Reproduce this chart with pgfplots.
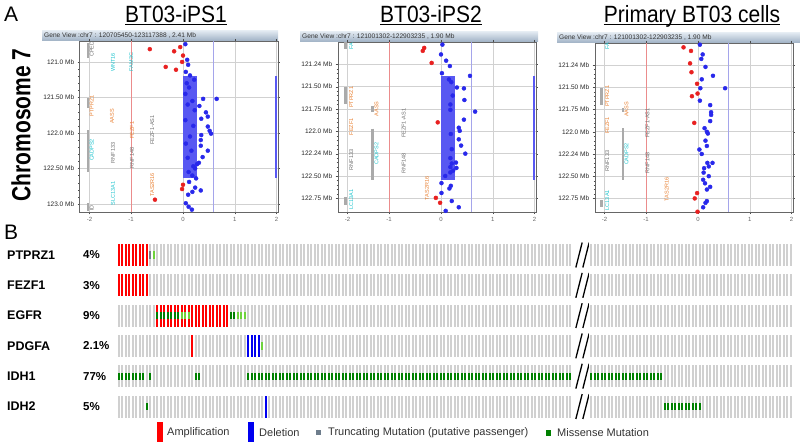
\documentclass[border=0pt]{standalone}
\usepackage{pgfplots}
\pgfplotsset{compat=1.18}
\usepackage{fontspec}
\setmainfont{Liberation Sans}
\usepackage{graphicx}
\definecolor{dotred}{RGB}{232,32,32}
\definecolor{dotblue}{RGB}{40,40,235}
\definecolor{rectblue}{RGB}{88,88,242}
\definecolor{gcyan}{RGB}{30,195,205}
\definecolor{gorange}{RGB}{232,128,50}
\definecolor{ggray}{RGB}{110,110,110}
\definecolor{gbar}{RGB}{170,170,170}
\definecolor{gridred}{RGB}{235,140,140}
\definecolor{gridpurple}{RGB}{165,165,235}
\definecolor{cellgray}{RGB}{208,208,208}
\definecolor{ampred}{RGB}{255,0,0}
\definecolor{delblue}{RGB}{0,0,240}
\definecolor{misgreen}{RGB}{0,128,0}
\definecolor{ltgreen}{RGB}{110,210,60}
\definecolor{truncgray}{RGB}{110,125,140}
\definecolor{hdrtop}{RGB}{224,232,240}
\definecolor{hdrbot}{RGB}{158,176,196}
\newcommand{\genefont}{\fontsize{5.5}{5.5}\selectfont}
\newcommand{\cell}[5]{\addplot[fill=#5, draw=none, forget plot] coordinates {(#1,#3) (#2,#3) (#2,#4) (#1,#4)} -- cycle;}
\pgfplotsset{
 geneview/.style={
  scale only axis, width=198.2pt,
  y dir=reverse,
  xmin=-2.21, xmax=2.03,
  xtick={-2,-1.11,0,1.11,2}, xticklabels={-2,-1,0,1,2},
  xticklabel style={font=\fontsize{6}{6}\selectfont, text=black!60},
  yticklabel style={font=\fontsize{6.5}{7}\selectfont, text=black!85},
  tick align=outside, major tick length=2pt, minor tick length=1.2pt,
  tick style={black!70},
  axis line style={black!60},
  grid=major, major grid style={black!18, line width=0.6pt},
  minor y tick num=4,
  clip=true,
 },
}
\begin{document}
\begin{tikzpicture}
\useasboundingbox (0pt,0pt) rectangle (800pt,-446pt);
% ---------- labels ----------
\node[anchor=base west, inner sep=0, font=\fontsize{21}{21}\selectfont] at (4pt,-22pt) {A};
\node[anchor=base west, inner sep=0, font=\fontsize{21}{21}\selectfont] at (4pt,-240pt) {B};
\node[rotate=90, inner sep=0, font=\bfseries\fontsize{21}{21}\selectfont] at (21pt,-125pt) {\scalebox{1}[1.25]{Chromosome 7}};
\node[anchor=base, inner sep=0, font=\fontsize{21}{21}\selectfont] (t1) at (176pt,-23pt) {\scalebox{1}[1.12]{BT03-iPS1}};
\draw[line width=1pt] ([yshift=-2pt]t1.base west) -- ([yshift=-2pt]t1.base east);
\node[anchor=base, inner sep=0, font=\fontsize{21}{21}\selectfont] (t2) at (431pt,-23pt) {\scalebox{1}[1.12]{BT03-iPS2}};
\draw[line width=1pt] ([yshift=-2pt]t2.base west) -- ([yshift=-2pt]t2.base east);
\node[anchor=base, inner sep=0, font=\fontsize{21}{21}\selectfont] (t3) at (692pt,-23pt) {\scalebox{1}[1.12]{Primary BT03 cells}};
\draw[line width=1pt] ([yshift=-2pt]t3.base west) -- ([yshift=-2pt]t3.base east);
% ---------- headers ----------
\shade[top color=hdrtop, bottom color=hdrbot] (42pt,-31pt) rectangle (278pt,-41pt);
\node[anchor=west, inner sep=0, font=\fontsize{6.6}{7}\selectfont, text=black!80] at (44pt,-36pt) {Gene View :chr7 : 120705450-123117388 , 2.41 Mb};
\shade[top color=hdrtop, bottom color=hdrbot] (300pt,-32pt) rectangle (538pt,-42pt);
\node[anchor=west, inner sep=0, font=\fontsize{6.6}{7}\selectfont, text=black!80] at (302pt,-37pt) {Gene View :chr7 : 121001302-122903235 , 1.90 Mb};
\shade[top color=hdrtop, bottom color=hdrbot] (557pt,-33pt) rectangle (800pt,-43pt);
\node[anchor=west, inner sep=0, font=\fontsize{6.6}{7}\selectfont, text=black!80] at (559pt,-38pt) {Gene View :chr7 : 121001302-122903235 , 1.90 Mb};

% ---------- panel 1 ----------
\begin{axis}[geneview, at={(79.7pt,-41pt)}, anchor=north west, height=171.25pt,
  ymin=120.705, ymax=123.117,
  ytick={121,121.5,122,122.5,123},
  yticklabels={121.0 Mb,121.50 Mb,122.0 Mb,122.50 Mb,123.0 Mb}]
\draw[gridred, line width=0.7pt] (axis cs:-1.11,120.705) -- (axis cs:-1.11,123.117);
\draw[gridpurple, line width=0.7pt] (axis cs:0.64,120.705) -- (axis cs:0.64,123.117);
\draw[gbar, line width=2.5pt] (axis cs:-2.03,120.73) -- (axis cs:-2.03,120.94);
\draw[gbar, line width=2.5pt] (axis cs:-2.03,121.51) -- (axis cs:-2.03,121.65);
\draw[gbar, line width=2.5pt] (axis cs:-2.03,121.96) -- (axis cs:-2.03,122.55);
\draw[gbar, line width=2.5pt] (axis cs:-2.03,122.99) -- (axis cs:-2.03,123.10);
\node[rotate=90, text=ggray, font=\genefont] at (axis cs:-1.95,120.82) {CPED};
\node[rotate=90, text=gcyan, font=\genefont] at (axis cs:-1.50,121.01) {WNT16};
\node[rotate=90, text=gcyan, font=\genefont] at (axis cs:-1.11,121.00) {FAM3C};
\node[rotate=90, text=gorange, font=\genefont] at (axis cs:-1.95,121.62) {PTPRZ1};
\node[rotate=90, text=gorange, font=\genefont] at (axis cs:-1.52,121.77) {AASS};
\node[rotate=90, text=gorange, font=\genefont] at (axis cs:-1.09,121.96) {FEZF1};
\node[rotate=90, text=ggray, font=\genefont] at (axis cs:-0.66,121.96) {FEZF1-AS1};
\node[rotate=90, text=gcyan, font=\genefont] at (axis cs:-1.95,122.24) {CADPS2};
\node[rotate=90, text=ggray, font=\genefont] at (axis cs:-1.50,122.28) {RNF133};
\node[rotate=90, text=ggray, font=\genefont] at (axis cs:-1.09,122.35) {RNF148};
\node[rotate=90, text=gorange, font=\genefont] at (axis cs:-0.66,122.73) {TAS2R16};
\node[rotate=90, text=gcyan, font=\genefont] at (axis cs:-1.50,122.85) {SLC13A1};
\node[rotate=90, text=ggray, font=\genefont] at (axis cs:-1.95,123.06) {ID};
\addplot[fill=rectblue, draw=none] coordinates {(0,121.2) (0.3,121.2) (0.3,122.634) (0,122.634)} -- cycle;
\addplot[rectblue, line width=2.4pt] coordinates {(1.995,121.2) (1.995,122.634)};
\addplot[only marks, mark=*, mark size=2pt, color=dotred] coordinates {
(-0.71,120.82) (-0.19,120.85) (-0.06,120.79) (0.0,120.91) (-0.02,121.0) (-0.37,121.07) (-0.15,121.11) (0.0,122.73) (-0.02,122.79) (-0.6,122.94)};
\addplot[only marks, mark=*, mark size=2pt, color=dotblue] coordinates {
(0.05,120.75) (0.09,120.97) (0.11,121.04) (0.06,121.14) (0.15,121.19) (0.24,121.25) (0.43,121.52) (0.72,121.52) (0.35,121.62) (0.49,121.71) (0.53,121.77) (0.39,121.8) (0.53,121.91) (0.57,121.97) (0.6,122.01) (0.39,122.03) (0.38,122.1) (0.38,122.18) (0.53,122.25) (0.42,122.34) (0.34,122.42) (0.3,122.44) (0.26,122.5) (0.28,122.64) (0.13,122.69) (0.26,122.77) (0.2,122.83) (0.38,122.81) (0.11,122.87) (0.06,122.99) (0.12,123.04) (0.19,123.08)
(0.08,121.3) (0.13,121.36) (0.05,121.45) (0.2,121.55) (0.1,121.6) (0.25,121.68) (0.05,121.82) (0.22,121.9) (0.15,122.05) (0.06,122.15) (0.18,122.25) (0.1,122.35) (0.22,122.47) (0.12,122.55) (0.2,122.6)};
\end{axis}

% ---------- panel 2 ----------
\begin{axis}[geneview, at={(337.7pt,-42pt)}, anchor=north west, height=170pt,
  ymin=121.001, ymax=122.903,
  ytick={121.25,121.5,121.75,122,122.25,122.5,122.75},
  yticklabels={121.24 Mb,121.50 Mb,121.75 Mb,122.0 Mb,122.24 Mb,122.50 Mb,122.75 Mb}]
\draw[gridred, line width=0.7pt] (axis cs:-1.11,121.001) -- (axis cs:-1.11,122.903);
\draw[gridpurple, line width=0.7pt] (axis cs:0.64,121.001) -- (axis cs:0.64,122.903);
\draw[gbar, line width=2.5pt] (axis cs:-2.04,121.00) -- (axis cs:-2.04,121.08);
\draw[gbar, line width=2.5pt] (axis cs:-2.04,121.50) -- (axis cs:-2.04,121.69);
\draw[gbar, line width=2.5pt] (axis cs:-2.04,122.74) -- (axis cs:-2.04,122.83);
\draw[gbar, line width=2.5pt] (axis cs:-1.47,121.97) -- (axis cs:-1.47,122.54);
\draw[gbar, line width=2.5pt] (axis cs:-1.47,121.72) -- (axis cs:-1.47,121.78);
\node[rotate=90, text=gcyan, font=\genefont] at (axis cs:-1.92,121.045) {FA};
\node[rotate=90, text=gorange, font=\genefont] at (axis cs:-1.92,121.62) {PTPRZ1};
\node[rotate=90, text=gorange, font=\genefont] at (axis cs:-1.92,121.95) {FEZF1};
\node[rotate=90, text=ggray, font=\genefont] at (axis cs:-1.92,122.32) {RNF133};
\node[rotate=90, text=gcyan, font=\genefont] at (axis cs:-1.92,122.76) {LC13A1};
\node[rotate=90, text=gorange, font=\genefont] at (axis cs:-1.38,121.75) {AASS};
\node[rotate=90, text=gcyan, font=\genefont] at (axis cs:-1.38,122.25) {CADPS2};
\node[rotate=90, text=ggray, font=\genefont] at (axis cs:-0.80,121.91) {FEZF1-AS1};
\node[rotate=90, text=ggray, font=\genefont] at (axis cs:-0.80,122.36) {RNF148};
\node[rotate=90, text=gorange, font=\genefont] at (axis cs:-0.30,122.64) {TAS2R16};
\addplot[fill=rectblue, draw=none] coordinates {(0,121.38) (0.3,121.38) (0.3,122.54) (0,122.54)} -- cycle;
\addplot[rectblue, line width=2.4pt] coordinates {(1.995,121.38) (1.995,122.54)};
\addplot[only marks, mark=*, mark size=2pt, color=dotred] coordinates {
(-0.36,121.067) (-0.39,121.10) (-0.20,121.235) (-0.07,121.90) (-0.11,122.745) (-0.02,122.80)};
\addplot[only marks, mark=*, mark size=2pt, color=dotblue] coordinates {
(0.03,121.03) (0.0,121.14) (0.11,121.21) (0.19,121.27) (0.02,121.35) (0.62,121.38) (0.17,121.42) (0.22,121.45) (0.34,121.51) (0.49,121.52) (0.25,121.60) (0.50,121.65) (0.20,121.70) (0.73,121.78) (0.20,121.76) (0.49,121.87) (0.38,121.96) (0.40,121.995) (0.21,122.03) (0.38,122.09) (0.43,122.16) (0.23,122.20) (0.52,122.25) (0.20,122.30) (0.32,122.35) (0.23,122.36) (0.20,122.40) (0.33,122.41) (0.26,122.44) (0.20,122.46) (0.09,122.50) (0.01,122.58) (0.21,122.61) (0.18,122.64) (0.01,122.69) (0.23,122.78) (0.38,122.85) (0.10,122.89)};
\end{axis}

% ---------- panel 3 ----------
\begin{axis}[geneview, at={(594.7pt,-43pt)}, anchor=north west, height=169pt,
  ymin=121.001, ymax=122.903,
  ytick={121.25,121.5,121.75,122,122.25,122.5,122.75},
  yticklabels={121.24 Mb,121.50 Mb,121.75 Mb,122.0 Mb,122.24 Mb,122.50 Mb,122.75 Mb}]
\draw[gridred, line width=0.7pt] (axis cs:-1.11,121.001) -- (axis cs:-1.11,122.903);
\draw[gridpurple, line width=0.7pt] (axis cs:0.64,121.001) -- (axis cs:0.64,122.903);
\draw[gbar, line width=2.5pt] (axis cs:-2.06,121.51) -- (axis cs:-2.06,121.70);
\draw[gbar, line width=2.5pt] (axis cs:-2.06,122.77) -- (axis cs:-2.06,122.85);
\draw[gbar, line width=2.5pt] (axis cs:-1.61,121.96) -- (axis cs:-1.61,122.54);
\draw[gbar, line width=2.5pt] (axis cs:-1.61,121.73) -- (axis cs:-1.61,121.78);
\node[rotate=90, text=gcyan, font=\genefont] at (axis cs:-1.94,121.04) {FA};
\node[rotate=90, text=gorange, font=\genefont] at (axis cs:-1.94,121.60) {PTPRZ1};
\node[rotate=90, text=gorange, font=\genefont] at (axis cs:-1.94,121.93) {FEZF1};
\node[rotate=90, text=ggray, font=\genefont] at (axis cs:-1.94,122.33) {RNF133};
\node[rotate=90, text=gcyan, font=\genefont] at (axis cs:-1.94,122.77) {LC13A1};
\node[rotate=90, text=gorange, font=\genefont] at (axis cs:-1.53,121.75) {AASS};
\node[rotate=90, text=gcyan, font=\genefont] at (axis cs:-1.53,122.25) {CADPS2};
\node[rotate=90, text=ggray, font=\genefont] at (axis cs:-1.08,121.90) {FEZF1-AS1};
\node[rotate=90, text=ggray, font=\genefont] at (axis cs:-1.08,122.35) {RNF148};
\node[rotate=90, text=gorange, font=\genefont] at (axis cs:-0.67,122.65) {TAS2R16};
\addplot[only marks, mark=*, mark size=2pt, color=dotred] coordinates {
(-0.31,121.05) (-0.15,121.09) (-0.17,121.23) (-0.14,121.33) (-0.02,121.46) (-0.01,121.57) (-0.13,121.60) (-0.08,121.90) (-0.02,122.69) (-0.07,122.75) (-0.01,122.90)};
\addplot[only marks, mark=*, mark size=2pt, color=dotblue] coordinates {
(0.04,121.02) (0.10,121.13) (0.07,121.18) (0.16,121.27) (0.32,121.37) (0.08,121.41) (0.05,121.51) (0.58,121.51) (0.04,121.65) (0.26,121.70) (0.28,121.78) (0.28,121.81) (0.26,121.88) (0.14,121.96) (0.19,122.00) (0.21,122.02) (0.16,122.10) (0.19,122.16) (0.03,122.20) (0.08,122.25) (0.20,122.35) (0.31,122.35) (0.23,122.39) (0.13,122.41) (0.12,122.46) (0.23,122.50) (0.11,122.54) (0.15,122.58) (0.26,122.62) (0.19,122.65) (0.19,122.78) (0.16,122.80) (0.11,122.85)};
\end{axis}

% ---------- panel B ----------
\foreach \g/\p/\yy in {PTPRZ1/4\%/255, FEZF1/3\%/285.3, EGFR/9\%/315.6, PDGFA/2.1\%/346, IDH1/77\%/376.3, IDH2/5\%/406.6}{
  \node[anchor=west, inner sep=0, font=\bfseries\fontsize{12.5}{13}\selectfont] at (7pt,-\yy pt) {\g};
  \node[anchor=west, inner sep=0, font=\bfseries\fontsize{11.5}{12}\selectfont] at (83pt,-\yy pt) {\p};
}
\begin{axis}[at={(117pt,-239.85pt)}, anchor=north west, scale only axis,
  width=675.5pt, height=181.8pt, xmin=0, xmax=193, ymin=-0.5, ymax=5.5, y dir=reverse,
  axis line style={draw=none}, ytick=\empty,
  xtick={0,1,...,130}, extra x ticks={135,136,...,193},
  xticklabels=\empty, extra x tick labels=\empty,
  major tick length=0pt, xmajorgrids, extra x tick style={grid=major},
  major grid style={white, line width=1.1pt},
  axis on top, clip=false]
% gray background
\cell{0}{130}{-0.363}{0.363}{cellgray}\cell{135}{193}{-0.363}{0.363}{cellgray}
\cell{0}{130}{0.637}{1.363}{cellgray}\cell{135}{193}{0.637}{1.363}{cellgray}
\cell{0}{130}{1.637}{2.363}{cellgray}\cell{135}{193}{1.637}{2.363}{cellgray}
\cell{0}{130}{2.637}{3.363}{cellgray}\cell{135}{193}{2.637}{3.363}{cellgray}
\cell{0}{130}{3.637}{4.363}{cellgray}\cell{135}{193}{3.637}{4.363}{cellgray}
\cell{0}{130}{4.637}{5.363}{cellgray}\cell{135}{193}{4.637}{5.363}{cellgray}
% PTPRZ1
\cell{0}{9}{-0.363}{0.363}{ampred}
\cell{9}{10}{-0.12}{0.12}{truncgray}
\cell{10}{11}{-0.12}{0.12}{ltgreen}
% FEZF1
\cell{0}{9}{0.637}{1.363}{ampred}
% EGFR
\cell{11}{32}{1.637}{2.363}{ampred}
\cell{11}{18}{1.88}{2.12}{misgreen}
\cell{18}{21}{1.88}{2.12}{ltgreen}
\cell{32}{34}{1.88}{2.12}{misgreen}
\cell{34}{37}{1.88}{2.12}{ltgreen}
% PDGFA
\cell{21}{22}{2.637}{3.363}{ampred}
\cell{37}{41}{2.637}{3.363}{delblue}
\cell{41}{42}{2.88}{3.12}{ltgreen}
% IDH1
\cell{0}{8}{3.88}{4.12}{misgreen}
\cell{9}{10}{3.88}{4.12}{misgreen}
\cell{22}{24}{3.88}{4.12}{misgreen}
\cell{37}{130}{3.88}{4.12}{misgreen}
\cell{135}{156}{3.88}{4.12}{misgreen}
% IDH2
\cell{8}{9}{4.88}{5.12}{misgreen}
\cell{42}{43}{4.637}{5.363}{delblue}
\cell{156}{167}{4.88}{5.12}{misgreen}
% break marks
\pgfplotsinvokeforeach{0,1,2,3,4,5}{
  \draw[black, line width=1.3pt] (axis cs:131.1,#1+0.41) -- (axis cs:132.9,#1-0.41);
  \draw[black, line width=1.3pt] (axis cs:133.1,#1+0.41) -- (axis cs:134.9,#1-0.41);
}
\end{axis}
% ---------- legend ----------
\fill[ampred] (157pt,-422pt) rectangle (163pt,-442pt);
\node[anchor=west, inner sep=0, font=\fontsize{11}{12}\selectfont, text=black!80] at (167pt,-433pt) {Amplification};
\fill[delblue] (248pt,-422pt) rectangle (254pt,-442pt);
\node[anchor=west, inner sep=0, font=\fontsize{11}{12}\selectfont, text=black!80] at (259pt,-433pt) {Deletion};
\fill[truncgray] (316pt,-430pt) rectangle (321pt,-435pt);
\node[anchor=west, inner sep=0, font=\fontsize{11}{12}\selectfont, text=black!80] at (328pt,-433pt) {Truncating Mutation (putative passenger)};
\fill[misgreen] (546pt,-430pt) rectangle (551pt,-435.5pt);
\node[anchor=west, inner sep=0, font=\fontsize{11}{12}\selectfont, text=black!80] at (557pt,-433pt) {Missense Mutation};
\end{tikzpicture}
\end{document}
